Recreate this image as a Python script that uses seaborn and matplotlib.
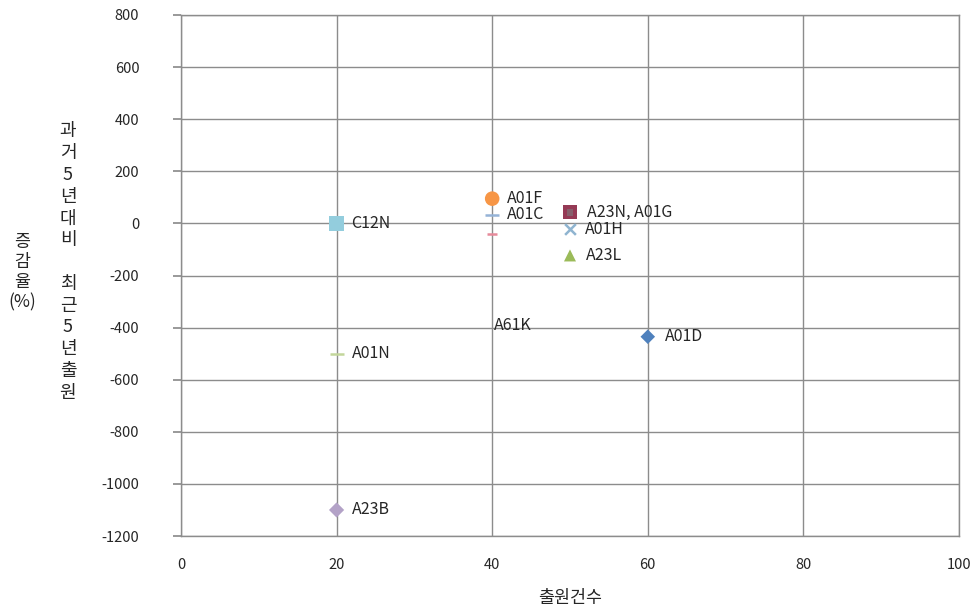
import matplotlib
matplotlib.use("Agg")
import matplotlib.pyplot as plt
import seaborn as sns

sns.set_theme(style="white")
plt.rcParams["font.family"] = ["Noto Sans CJK KR", "DejaVu Sans"]
plt.rcParams["axes.unicode_minus"] = False

# 출원건수 (x) and 증감율 % (y) for each IPC code
codes = ["A01D", "A23N", "A01G", "A23L", "A01H", "A01F", "A01C", "A61K", "C12N", "A01N", "A23B"]
filings = [60, 50, 50, 50, 50, 40, 40, 40, 20, 20, 20]
change_pct = [-435, 43, 43, -123, -20, 95, 33, -40, 0, -500, -1100]

# point labels (A23N and A01G share one label)
labels = ["A01D", "A23N, A01G", "", "A23L", "A01H", "A01F", "A01C", "A61K", "C12N", "A01N", "A23B"]

x_ticks = [0, 20, 40, 60, 80, 100]
y_ticks = [-1200, -1000, -800, -600, -400, -200, 0, 200, 400, 600, 800]

# marker styles
markers = ["D", "s", "s", "^", "x", "o", "_", "_", "s", "_", "D"]
colors = ["#4F81BD", "#953A55", "#86606C", "#9BBB59", "#8FB4D0", "#F79646",
          "#95B3D7", "#E68A9A", "#93CDDD", "#C3D69B", "#B3A2C7"]
sizes = [55, 110, 25, 75, 60, 110, 90, 60, 110, 90, 60]
label_offsets = [(17, 0), (17, 0), (0, 0), (16, 0), (15, -1), (15, 0), (15, 0), (2, -92),
                 (15, 0), (15, 0), (15, 0)]

fig = plt.figure(figsize=(9.75, 6.14), dpi=100)
ax = fig.add_axes([0.1856, 0.127, 0.798, 0.8486])

for x, y, m, c, s in zip(filings, change_pct, markers, colors, sizes):
    if m in ("_", "x"):
        sns.scatterplot(x=[x], y=[y], marker=m, color=c, s=s, linewidth=1.8, ax=ax, zorder=3)
    else:
        sns.scatterplot(x=[x], y=[y], marker=m, color=c, s=s, edgecolor="none", ax=ax, zorder=3)

for x, y, lab, (dx, dy) in zip(filings, change_pct, labels, label_offsets):
    if lab:
        ax.annotate(lab, (x, y), xytext=(dx, dy), textcoords="offset pixels",
                    ha="left", va="center", fontsize=11.5, color="#262626", zorder=4)

ax.set_xlim(0, 100)
ax.set_ylim(-1200, 800)
ax.set_xticks(x_ticks)
ax.set_yticks(y_ticks)
ax.grid(True, color="#8C8C8C", linewidth=1)
ax.set_axisbelow(True)
for sp in ax.spines.values():
    sp.set_color("#8C8C8C")
    sp.set_linewidth(1)
ax.tick_params(axis="y", length=6, color="#8C8C8C", labelsize=10.5, labelcolor="#262626",
               pad=24, left=True)
ax.tick_params(axis="x", length=0, labelsize=10.5, labelcolor="#262626", pad=16)

ax.set_xlabel("출원건수", fontsize=12.5, color="#262626", labelpad=12)
ax.set_ylabel("")

# vertical stacked caption and the short label beside it
stack = "과\n거\n5\n년\n대\n비\n \n최\n근\n5\n년\n출\n원"
fig.text(68 / 975, 1 - 262 / 614, stack, ha="center", va="center", fontsize=13,
         color="#262626", linespacing=1.27)
fig.text(22 / 975, 1 - 272 / 614, "증\n감\n율\n(%)", ha="center", va="center", fontsize=12.5,
         color="#262626", linespacing=1.15)

fig.savefig("out.png", dpi=100)
